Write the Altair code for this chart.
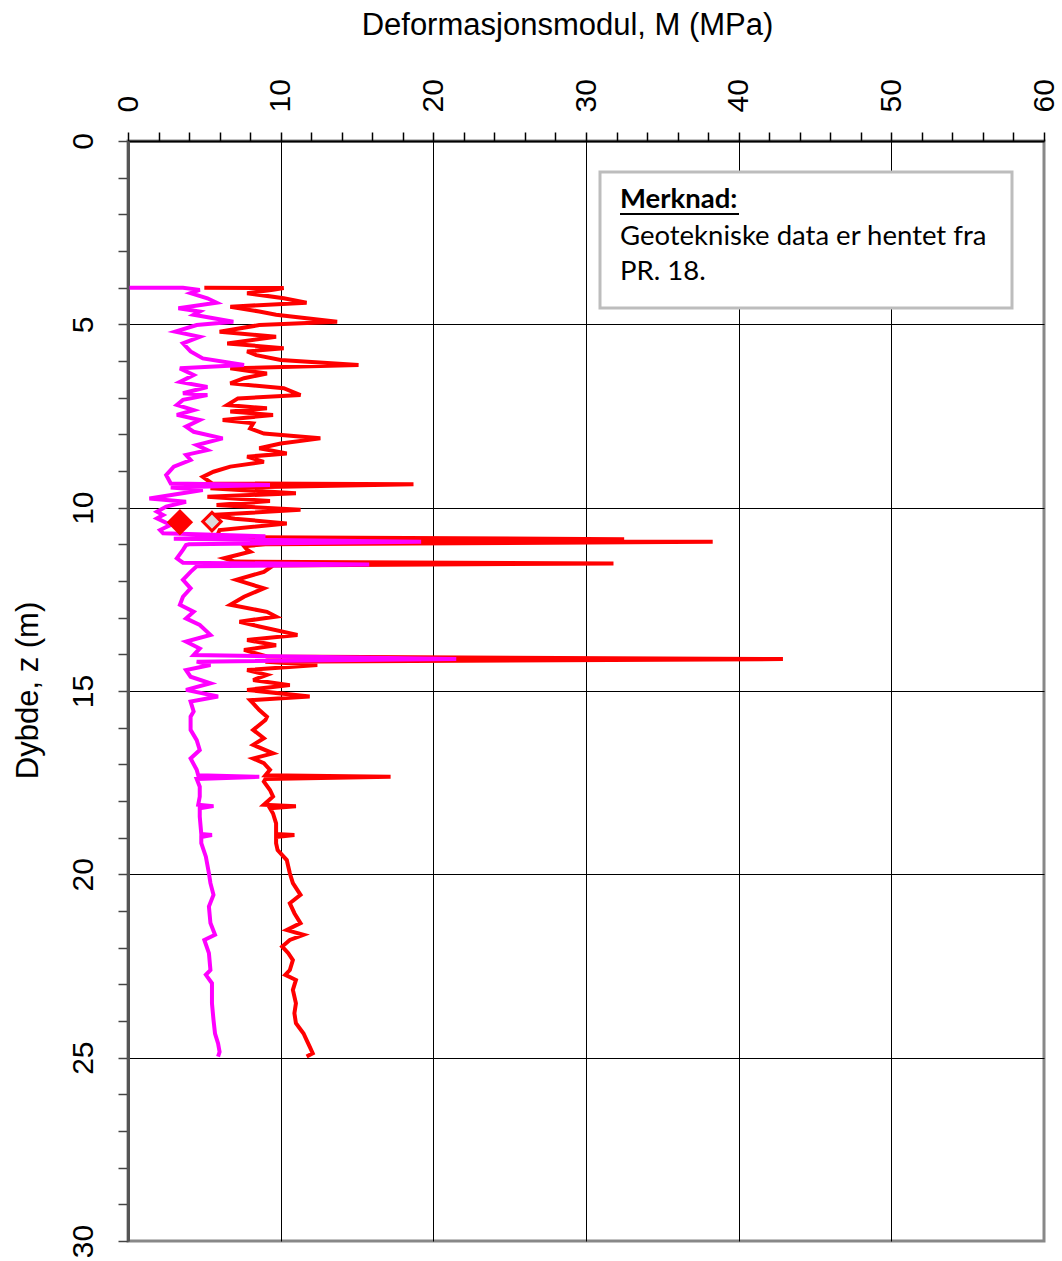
import altair as alt
import pandas as pd

# Deformation modulus profiles (depth in m, modulus in MPa)
red_depth = [4.00, 4.01, 4.06, 4.15, 4.29, 4.41, 4.52, 4.65, 4.74, 4.93, 5.02, 5.20, 5.34, 5.52,
             5.65, 5.74, 5.84, 5.97, 6.11, 6.20, 6.34, 6.47, 6.61, 6.74, 6.93, 7.02, 7.20, 7.29,
             7.38, 7.47, 7.61, 7.70, 7.84, 7.98, 8.11, 8.25, 8.38, 8.52, 8.61, 8.75, 8.88, 9.02,
             9.16, 9.34, 9.36, 9.47, 9.61, 9.70, 9.82, 9.93, 10.06, 10.20, 10.30, 10.43, 10.61,
             10.80, 10.86, 10.90, 10.93, 11.00, 11.05, 11.15, 11.20, 11.38, 11.47, 11.52, 11.58,
             11.75, 11.97, 12.20, 12.43, 12.65, 12.84, 12.97, 13.11, 13.24, 13.47, 13.61, 13.75,
             13.88, 14.06, 14.13, 14.20, 14.29, 14.43, 14.56, 14.70, 14.84, 14.97, 15.15, 15.25,
             15.34, 15.52, 15.70, 15.79, 16.06, 16.29, 16.47, 16.70, 16.84, 16.97, 17.15, 17.30,
             17.34, 17.40, 17.47, 17.70, 17.88, 18.10, 18.14, 18.20, 18.34, 18.61, 18.90, 18.93,
             18.98, 19.15, 19.34, 19.61, 19.97, 20.24, 20.56, 20.79, 21.06, 21.33, 21.52, 21.65,
             21.79, 21.97, 22.15, 22.34, 22.61, 22.74, 22.88, 23.15, 23.52, 23.79, 24.06, 24.34,
             24.52, 24.70, 24.88, 24.97]
red_value = [5.0, 10.2, 9.5, 7.8, 10.2, 11.7, 6.7, 8.6, 9.7, 13.7, 8.6, 6.0, 9.7, 6.5,
             10.2, 7.8, 8.4, 10.0, 15.1, 6.7, 9.1, 7.6, 6.7, 10.2, 11.3, 7.2, 6.5, 9.1,
             6.7, 9.5, 6.2, 8.2, 8.0, 8.9, 12.6, 10.0, 8.6, 10.4, 7.8, 8.9, 6.7, 5.6,
             4.9, 5.5, 18.7, 5.4, 11.0, 5.2, 9.3, 5.8, 11.3, 5.4, 7.0, 10.4, 6.0,
             5.8, 32.5, 8.0, 38.3, 9.0, 7.6, 7.8, 8.0, 6.3, 7.0, 31.8, 9.5,
             8.9, 7.1, 8.9, 7.6, 6.7, 9.1, 9.7, 7.3, 8.6, 11.1, 7.8, 9.7,
             7.6, 9.1, 42.9, 9.0, 12.4, 7.8, 9.1, 8.2, 10.6, 7.8, 11.9, 8.0,
             8.2, 8.6, 9.1, 9.0, 8.2, 8.9, 8.2, 9.5, 8.2, 8.9, 9.3, 9.0,
             17.2, 9.0, 8.9, 9.3, 9.5, 8.9, 11.0, 9.3, 9.5, 9.7, 9.7, 10.9,
             9.7, 9.7, 9.8, 10.4, 10.6, 10.8, 11.3, 10.6, 10.9, 11.3, 10.4, 11.5,
             10.6, 10.1, 10.5, 10.8, 10.6, 10.3, 11.0, 10.8, 11.0, 10.9, 11.0, 11.5,
             11.7, 11.9, 12.1, 11.7]

mag_depth = [4.00, 4.00, 4.06, 4.15, 4.29, 4.41, 4.56, 4.65, 4.74, 4.93, 5.02, 5.20, 5.34, 5.52,
             5.74, 5.93, 6.11, 6.20, 6.38, 6.57, 6.71, 6.88, 6.93, 7.06, 7.20, 7.34, 7.47, 7.61,
             7.79, 7.93, 8.11, 8.29, 8.43, 8.56, 8.70, 8.88, 9.11, 9.34, 9.38, 9.45, 9.52, 9.75,
             9.84, 9.97, 10.11, 10.20, 10.29, 10.47, 10.61, 10.70, 10.78, 10.85, 10.93, 11.00,
             11.02, 11.15, 11.38, 11.50, 11.55, 11.60, 11.75, 11.97, 12.20, 12.43, 12.65, 12.84,
             13.02, 13.20, 13.47, 13.65, 13.84, 14.02, 14.13, 14.20, 14.29, 14.43, 14.61, 14.79,
             14.97, 15.15, 15.29, 15.56, 15.70, 16.06, 16.34, 16.61, 16.84, 17.15, 17.30, 17.34,
             17.40, 17.61, 17.88, 18.10, 18.14, 18.20, 18.43, 18.90, 18.93, 18.98, 19.15, 19.52,
             19.97, 20.24, 20.56, 20.88, 21.33, 21.65, 21.79, 22.15, 22.61, 22.74, 22.97, 23.52,
             23.97, 24.34, 24.61, 24.84, 24.97]
mag_value = [0.1, 3.6, 4.7, 4.1, 5.2, 5.8, 3.3, 4.7, 4.3, 6.9, 4.5, 3.1, 4.7, 3.6,
             4.1, 4.9, 7.6, 3.4, 4.3, 3.4, 5.2, 3.6, 5.2, 3.6, 3.2, 4.3, 3.2, 4.7,
             3.8, 4.3, 6.2, 4.5, 5.2, 3.8, 4.1, 3.0, 2.5, 2.8, 9.3, 2.8, 4.9, 1.4,
             3.8, 2.5, 1.9, 2.3, 1.9, 2.8, 2.1, 2.3, 9.0, 3.0, 19.2, 4.0,
             3.8, 3.6, 3.2, 3.6, 15.8, 4.5, 4.1, 3.6, 4.1, 3.6, 3.4, 4.3,
             3.8, 4.7, 5.4, 3.8, 4.7, 4.3, 21.5, 4.5, 5.4, 3.8, 4.1, 5.4,
             3.8, 5.9, 4.1, 4.3, 4.1, 4.1, 4.5, 4.7, 4.1, 4.5, 4.6, 8.6,
             4.5, 4.7, 4.7, 4.6, 5.6, 4.7, 4.7, 4.8, 5.5, 4.8, 4.8, 5.1,
             5.3, 5.4, 5.6, 5.3, 5.4, 5.7, 5.0, 5.3, 5.4, 5.1, 5.5, 5.5,
             5.6, 5.7, 5.9, 6.0, 5.9]

# Single reference points near 10.4 m
marker_kind = ["filled", "open"]
marker_depth = [10.40, 10.38]
marker_value = [3.4, 5.5]

x_ticks = list(range(0, 61, 2))
y_ticks = list(range(0, 31))

note_title = "Merknad:"
note_lines = ["Geotekniske data er hentet fra", "PR. 18."]

profiles = pd.concat([
    pd.DataFrame({"series": "M2", "i": range(len(red_depth)), "z": red_depth, "M": red_value}),
    pd.DataFrame({"series": "M1", "i": range(len(mag_depth)), "z": mag_depth, "M": mag_value}),
])
markers = pd.DataFrame({"kind": marker_kind, "z": marker_depth, "M": marker_value})

FONT = "Liberation Sans"

x_enc = alt.X(
    "M:Q",
    scale=alt.Scale(domain=[0, 60], nice=False, zero=True),
    axis=alt.Axis(
        orient="top", values=x_ticks, tickCount=200,
        labelExpr="datum.value % 10 === 0 ? format(datum.value, 'd') : ''",
        labelAngle=270, labelFont=FONT, labelFontSize=30, labelColor="black",
        labelPadding=20, labelFlush=False, labelOverlap=False, labelBound=False,
        tickColor="black", tickSize=9, tickWidth=1.5,
        domainColor="black", domainWidth=2,
        grid=True, gridColor="black", gridWidth=1,
        gridOpacity={"condition": {"test": "datum.value % 10 === 0 && datum.value > 0 && datum.value < 60",
                                   "value": 1}, "value": 0},
        title="Deformasjonsmodul, M (MPa)", titleFont=FONT, titleFontSize=31,
        titleFontWeight="normal", titleColor="black",
        titleX=439, titleY=-116, titleAlign="center", titleBaseline="middle",
    ),
)
y_enc = alt.Y(
    "z:Q",
    scale=alt.Scale(domain=[0, 30], nice=False, zero=True, reverse=True),
    axis=alt.Axis(
        orient="left", values=y_ticks, tickCount=200,
        labelExpr="datum.value % 5 === 0 ? format(datum.value, 'd') : ''",
        labelAngle=270, labelFont=FONT, labelFontSize=30, labelColor="black",
        labelPadding=20, labelFlush=False, labelOverlap=False, labelBound=False,
        tickColor="#444", tickSize=10, tickWidth=1.5,
        domainColor="#555", domainWidth=3,
        grid=True, gridColor="black", gridWidth=1,
        gridOpacity={"condition": {"test": "datum.value % 5 === 0 && datum.value > 0 && datum.value < 30",
                                   "value": 1}, "value": 0},
        title="Dybde, z (m)", titleFont=FONT, titleFontSize=31,
        titleFontWeight="normal", titleColor="black", titleAngle=270,
        titleX=-100, titleY=549, titleAlign="center", titleBaseline="middle",
    ),
)

lines = alt.Chart(profiles).mark_line(strokeWidth=4, clip=True).encode(
    x=x_enc,
    y=y_enc,
    order=alt.Order("i:Q"),
    detail="series:N",
    color=alt.Color("series:N", scale=alt.Scale(domain=["M2", "M1"], range=["#ff0000", "#ff00ff"]),
                    legend=None),
)

filled = alt.Chart(markers).transform_filter("datum.kind === 'filled'").mark_point(
    shape="diamond", filled=True, size=700, color="#ff0000", opacity=1
).encode(x="M:Q", y="z:Q")

hollow = alt.Chart(markers).transform_filter("datum.kind === 'open'").mark_point(
    shape="diamond", filled=True, size=340, fill="#dcdcdc", stroke="#ff0000", strokeWidth=3, opacity=1
).encode(x="M:Q", y="z:Q")

note_df = pd.DataFrame({"title": [note_title], "l1": [note_lines[0]], "l2": [note_lines[1]]})
note_box = alt.Chart(note_df).mark_rect(fill="white", stroke="#bdbdbd", strokeWidth=3).encode(
    x=alt.value(472), x2=alt.value(884), y=alt.value(31), y2=alt.value(167)
)
NOTE_FONT = "Lato"
NOTE_SIZE = 27.5
note_head = alt.Chart(note_df).mark_text(
    align="left", baseline="middle", font=NOTE_FONT, fontSize=NOTE_SIZE, fontWeight="bold", color="black"
).encode(x=alt.value(492), y=alt.value(59), text="title:N")
note_under = alt.Chart(note_df).mark_rule(color="black", strokeWidth=2).encode(
    x=alt.value(492), x2=alt.value(611), y=alt.value(73)
)
note_l1 = alt.Chart(note_df).mark_text(
    align="left", baseline="middle", font=NOTE_FONT, fontSize=NOTE_SIZE, color="black"
).encode(x=alt.value(492), y=alt.value(96), text="l1:N")
note_l2 = alt.Chart(note_df).mark_text(
    align="left", baseline="middle", font=NOTE_FONT, fontSize=NOTE_SIZE, color="black"
).encode(x=alt.value(492), y=alt.value(131), text="l2:N")

chart = alt.layer(
    lines, filled, hollow, note_box, note_head, note_under, note_l1, note_l2
).properties(
    width=916, height=1100,
    autosize=alt.AutoSizeParams(type="none"),
    padding={"left": 128, "top": 141, "right": 18, "bottom": 20},
    background="white",
).configure_view(stroke="#888", strokeWidth=3)

chart.save("out.html", embed_options={"renderer": "svg", "actions": False})
